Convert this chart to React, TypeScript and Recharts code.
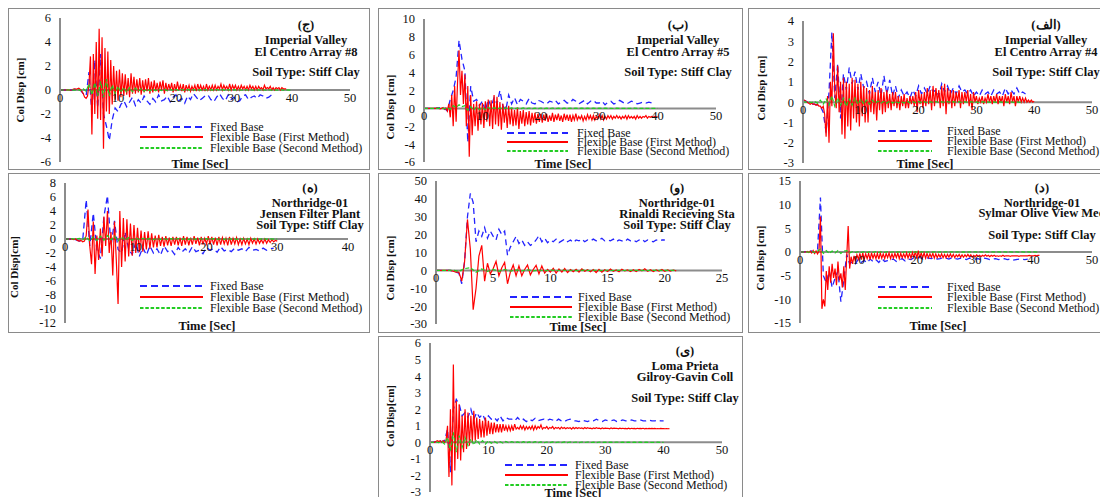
import React from 'react';
import { LineChart, Line, XAxis, YAxis, ReferenceLine, ReferenceDot } from 'recharts';

const FONT = '"Liberation Serif", "DejaVu Serif", serif';
const AXIS_GREY = '#8c8c8c';
const BORDER_GREY = '#8a8a8a';

// sampling steps (seconds) of the recorded histories
const FIXED_STEP = 0.5;
const FIRST_STEP = 0.25;
const SECOND_STEP = 0.5;

const SERIES = [
  { key: 'fixed', name: 'Fixed Base', color: '#2323ff', width: 1.3, dash: '6 4', legendDash: '7 4' },
  { key: 'first', name: 'Flexible Base (First Method)', color: '#ff0000', width: 1.2, dash: undefined, legendDash: undefined },
  { key: 'second', name: 'Flexible Base (Second Method)', color: '#22cc22', width: 1.2, dash: '4 2', legendDash: '3.5 1.8' },
];

const xTicks50 = [0, 10, 20, 30, 40, 50];
const xTicks40 = [0, 10, 20, 30, 40];
const xTicks25 = [0, 5, 10, 15, 20, 25];

// ---------- Imperial Valley, El Centro Array #8 ----------
const yTicksA = [-6, -4, -2, 0, 2, 4, 6];
const fixedA = [
  0, 0, 0, 0, 0, 0.05, 0.1, 0, -0.3, -0.5,
  1.5, -2.0, 2.5, -1.5, 3.0, -2.0, -3.0, -4.2, -2.5, -1.5,
  -1.8, -1.2, -0.9, -1.4, -1.0, -0.6, -1.3, -0.8, -1.1, -0.5,
  -0.9, -1.2, -0.7, -1.0, -0.4, -0.9, -0.8, -0.5, -1.0, -0.6,
  -0.4, -0.9, -0.7, -1.1, -0.5, -0.8, -0.3, -0.6, -0.9, -0.7,
  -0.5, -0.4, -0.8, -1.0, -0.6, -0.3, -0.7, -0.9, -0.4, -0.8,
  -0.6, -1.0, -0.9, -0.5, -0.4, -0.8, -0.6, -0.5, -0.7, -0.4,
  -0.5, -0.7, -0.6, -0.4, -0.5,
];
const firstA = [
  0, 0, 0, 0, 0, 0.02, 0, -0.02, 0, 0.05, 0.1, 0.05, 0.1, 0.15, 0.05, -0.1,
  -0.3, -0.6, -0.7, -0.5, 0.5, 2.8, -3.7, 3.0, -2.0, 4.0, -2.4, 5.1, -2.5, 4.4, -4.9, 3.5,
  -1.8, 3.2, -2.0, 2.5, -1.2, 2.0, -0.8, 1.6, -0.9, 1.7, -0.6, 1.4, -0.5, 1.3, -0.4, 1.0,
  -0.6, 1.4, -0.3, 1.1, -0.3, 0.9, -0.2, 1.0, -0.4, 0.8, -0.2, 0.9, -0.1, 1.0, -0.3, 0.7,
  -0.2, 0.8, -0.1, 0.6, -0.2, 0.7, 0, 0.8, -0.3, 0.6, -0.1, 0.5, 0, 0.6, -0.2, 0.5,
  -0.1, 0.7, 0, 0.4, -0.1, 0.5, -0.2, 0.4, 0, 0.4, -0.1, 0.3, 0, 0.4, -0.1, 0.5,
  0, 0.4, 0, 0.3, -0.1, 0.5, 0, 0.3, 0, 0.4, 0, 0.4, 0, 0.3, 0.1, 0.5,
  0, 0.4, 0.1, 0.3, 0, 0.5, 0, 0.4, 0.1, 0.4, 0, 0.3, 0, 0.4, 0.1, 0.3,
  0, 0.3, 0, 0.4, 0.1, 0.3, 0, 0.3, 0, 0.3, 0.1, 0.2, 0, 0.4, 0.1, 0.2,
  0.1, 0.3, 0, 0.2, 0, 0.2, 0.1, 0.2, 0, 0.2, 0.1, 0.1, 0.1,
];
const secondA = [
  0, 0, 0, 0, 0.02, -0.02, 0.05, -0.05, 0.1, -0.1,
  0.5, -0.4, 0.6, -0.5, 0.7, -0.6, 0.9, -0.5, 0.4, -0.3,
  0.3, -0.2, 0.2, -0.2, 0.2, -0.15, 0.15, -0.1, 0.1, -0.1,
  0.08, -0.06, 0.07, -0.05, 0.06, -0.05, 0.05, -0.05, 0.05, -0.04,
  0.05, -0.04, 0.04, -0.04, 0.05, -0.03, 0.04, -0.04, 0.03, -0.03,
  0.04, -0.03, 0.03, -0.03, 0.04, -0.02, 0.03, -0.03, 0.03, -0.02,
  0.03, -0.02, 0.02, -0.02, 0.03, -0.02, 0.02, -0.02, 0.02, -0.01,
  0.02, -0.02, 0.02, -0.01, 0.01, -0.01, 0.02, -0.01, 0.01, -0.01, 0,
];

// ---------- Imperial Valley, El Centro Array #5 ----------
const yTicksB = [-6, -4, -2, 0, 2, 4, 6, 8, 10];
const fixedB = [
  0, 0, 0, 0, 0, 0.05, 0.1, 0, -0.3, 1.0,
  2.0, 3.5, 7.6, 5.5, 4.2, -3.8, 2.5, 0.8, 1.0, 0.3,
  0.8, -0.3, 1.0, 0.2, 1.2, 0.5, 2.0, 0.3, -0.2, 1.5,
  0.5, 1.2, 0.4, 1.0, 0.8, 0.5, 1.1, 0.6, 0.5, 0.9,
  0.8, 0.6, 0.5, 0.8, 0.7, 0.9, 0.5, 0.7, 0.9, 0.6,
  0.6, 1.0, 0.8, 0.5, 0.7, 0.9, 0.5, 0.8, 0.9, 0.6,
  0.6, 0.8, 0.4, 0.7, 0.8, 0.5, 0.6, 0.9, 0.7, 0.5,
  0.6, 0.8, 0.7, 0.5, 0.6, 0.7, 0.6, 0.7, 0.6,
];
const firstB = [
  0, 0, 0, 0, 0, 0, 0, 0, 0, 0.05, 0, -0.05, 0, 0.1, -0.1, 0.05,
  -0.3, 0.5, -1.0, 1.5, -2.0, 2.5, -1.5, 3.0, 6.5, 1.5, 4.2, 0.5, 3.8, -2.0, 2.5, -5.4,
  1.5, -3.0, 0.5, -2.0, 0.8, -2.5, 0.5, -1.8, 0.6, -2.2, 0.8, -1.5, 1.0, -2.0, 0.9, -2.3,
  1.5, -1.8, 1.3, -2.0, 0.7, -2.4, 0.5, -1.6, 0.2, -2.2, 0.3, -1.8, 0, -2.0, -0.2, -1.9,
  0.1, -2.3, -0.3, -1.7, -0.2, -2.0, -0.4, -1.8, -0.3, -1.9, -0.5, -1.6, -0.5, -1.7, -0.6, -1.5,
  -0.6, -1.6, -0.7, -1.4, -0.6, -1.5, -0.8, -1.4, -0.5, -1.5, -0.7, -1.3, -0.6, -1.4, -0.8, -1.5,
  -0.6, -1.3, -0.7, -1.4, -0.7, -1.5, -0.8, -1.3, -0.6, -1.3, -0.9, -1.2, -0.8, -1.4, -0.9, -1.3,
  -0.7, -1.2, -0.8, -1.3, -0.8, -1.3, -0.9, -1.2, -0.7, -1.2, -0.8, -1.3, -0.9, -1.2, -0.8, -1.1,
  -0.8, -1.2, -0.9, -1.1, -0.8, -1.1, -0.9, -1.2, -0.9, -1.1, -0.8, -1.2, -0.8, -1.1, -0.9, -1.1,
  -0.9, -1.2, -0.8, -1.1, -0.9, -1.1, -0.9, -1.0, -0.8, -1.1, -0.9, -1.0, -0.9, -1.0, -0.9, -1.0,
  -0.9,
];
const secondB = [
  0, 0, 0, 0, 0, 0.02, 0, -0.02,
  0.05, -0.1, 0.3, 0.1, 0.4, 0.2, 0.3, -0.2, 0.2, -0.2, 0.15, -0.15, 0.1, -0.15,
  0.1, -0.1, 0.08, -0.08, 0.06, -0.06, 0.05, -0.05,
  0.05, -0.04, 0.04, -0.05, 0.05, -0.04, 0.04, -0.03, 0.03, -0.04,
  0.04, -0.03, 0.03, -0.03, 0.04, -0.02, 0.03, -0.03, 0.02, -0.02,
  0.03, -0.02, 0.02, -0.02, 0.03, -0.02, 0.02, -0.01, 0.02, -0.02,
  0.02, -0.01, 0.02, -0.01, 0.01, -0.02, 0.02, -0.01, 0.01, -0.01,
  0.01, -0.01, 0.02, -0.01, 0.01, -0.01, 0.01, -0.01, 0.01, -0.01, 0,
];

// ---------- Imperial Valley, El Centro Array #4 ----------
const yTicksC = [-3, -2, -1, 0, 1, 2, 3, 4];
const fixedC = [
  0.1, 0.05, -0.05, -0.1, -0.1, -0.15, -0.2, -0.5, -1.5, 0.5,
  3.45, 0.2, 1.9, -0.8, 1.4, 0.6, 1.7, 0.9, 1.5, 0.6,
  1.4, 0.7, 1.0, 0.4, 1.2, 0.5, 1.0, 0.3, 1.3, 0.4,
  1.1, 0.3, 0.8, 0.2, 0.6, 0.3, 0.5, 0.2, 0.6, 0.3,
  0.8, 0.4, 0.7, 0.4, 0.8, 0.5, 0.6, 0.3, 0.9, 0.5,
  0.8, 0.4, 0.7, 0.4, 0.8, 0.5, 0.6, 0.4, 0.6, 0.3,
  0.5, 0.3, 0.6, 0.4, 0.5, 0.3, 0.6, 0.4, 0.5, 0.3,
  0.7, 0.4, 0.6, 0.4, 0.7, 0.4, 0.5, 0.4,
];
const firstC = [
  0.05, 0.1, 0.05, 0, -0.05, -0.1, -0.05, -0.1, -0.1, -0.15, -0.1, -0.2, -0.2, -0.3, -0.2, -0.6,
  -1.7, 0.3, -2.0, 1.0, -0.2, 3.4, 0.5, -0.3, 1.8, -0.5, 1.0, -1.6, 1.2, -1.8, 1.0, -1.2,
  0.9, -1.4, 1.2, -0.8, 1.1, -1.0, 0.9, -1.2, 1.0, -0.7, 0.8, -1.0, 0.7, -1.0, 0.6, -0.5,
  0.8, -0.6, 0.5, -0.9, 0.6, -0.4, 0.7, -0.6, 0.5, -0.5, 0.6, -0.3, 0.4, -0.4, 0.5, -0.2,
  0.5, -0.3, 0.3, -0.4, 0.3, -0.2, 0.4, -0.3, 0.2, -0.3, 0.3, -0.1, 0.3, -0.2, 0.5, -0.5,
  0.6, -0.1, 0.4, -0.3, 0.5, -0.2, 0.7, -0.1, 0.6, -0.4, 0.8, -0.2, 0.7, 0, 0.6, -0.3,
  0.8, -0.2, 0.9, -0.6, 0.7, -0.1, 0.6, -0.3, 0.6, -0.2, 0.5, 0, 0.6, -0.3, 0.5, -0.1,
  0.5, 0, 0.6, -0.2, 0.4, -0.4, 0.5, 0, 0.3, -0.1, 0.2, 0, 0.3, -0.1, 0.2, 0,
  0.4, 0, 0.3, -0.1, 0.3, 0, 0.4, -0.1, 0.3, 0, 0.3, -0.2, 0.4, 0, 0.3, -0.1,
  0.5, 0, 0.3, -0.2, 0.3, 0, 0.3, 0, 0.2, 0, 0.2, 0, 0.1, 0, 0.1, 0,
  0.05,
];
const secondC = [
  0.02, 0, 0, -0.02, 0.03, -0.05, 0.1, -0.1, 0.15, -0.15,
  0.3, -0.2, 0.2, -0.15, 0.2, -0.2, 0.15, -0.15, 0.2, -0.1,
  0.15, -0.1, 0.1, -0.1, 0.1, -0.05,
  0.05, -0.04, 0.04, -0.05, 0.05, -0.04, 0.04, -0.03, 0.03, -0.04,
  0.04, -0.03, 0.03, -0.03, 0.04, -0.02, 0.03, -0.03, 0.02, -0.02,
  0.03, -0.02, 0.02, -0.02, 0.03, -0.02, 0.02, -0.01, 0.02, -0.02,
  0.02, -0.01, 0.02, -0.01, 0.01, -0.02, 0.02, -0.01, 0.01, -0.01,
  0.01, -0.01, 0.02, -0.01, 0.01, -0.01, 0.01, -0.01, 0.01, -0.01, 0,
];

// ---------- Northridge-01, Jensen Filter Plant ----------
const yTicksD = [-12, -10, -8, -6, -4, -2, 0, 2, 4, 6, 8];
const fixedD = [
  0, 0, 0, -0.1, -0.3, -0.2, 5.6, -1.0, 3.7, -1.5,
  -2.8, 3.2, 6.2, -1.0, 2.6, -1.5, -2.0, 1.0, -1.5, -2.2,
  -0.5, -2.5, -1.2, -2.3, -1.0, -2.0, -1.4, -2.3, -1.0, -1.8,
  -1.5, -2.2, -1.2, -1.9, -1.4, -2.0, -1.1, -1.8, -1.6, -2.1,
  -1.2, -1.6, -1.4, -1.9, -1.1, -1.7, -1.5, -1.8, -1.3, -1.6,
  -1.4, -1.8, -1.2, -1.6, -1.5, -1.7, -1.3, -1.6, -1.4, -1.3,
];
const firstD = [
  0, 0, 0, 0, 0, -0.1, 0, -0.2, -0.3, -0.2, -0.4, -0.3, 0.5, 4.2, -1.0, -3.6,
  2.5, -5.0, 0.5, -3.0, 1.5, -2.5, 3.2, -1.0, 4.0, -2.0, 1.0, -5.2, 2.5, -3.0, -9.3, 4.0,
  -4.0, 3.0, -3.2, 2.8, -2.5, 2.2, -2.4, 2.0, -2.0, 1.6, -1.9, 1.2, -1.8, 1.0, -1.5, 1.1,
  -1.4, 0.8, -1.2, 0.5, -1.2, 0.6, -1.0, 0.3, -1.1, 0.4, -0.9, 0.2, -1.0, 0.3, -0.8, 0.3,
  -0.9, 0.2, -1.0, 0.4, -0.8, 0.3, -0.9, 0.2, -0.8, 0.4, -0.7, 0.2, -0.9, 0.3, -0.8, 0.1,
  -0.7, 0.4, -0.8, 0.3, -0.8, 0.2, -0.9, 0.3, -0.8, 0.2, -0.7, 0.1, -0.9, 0.3, -0.8, 0.1,
  -0.7, 0.2, -0.8, 0, -0.8, 0.1, -0.7, 0, -0.8, 0.1, -0.6, 0, -0.7, 0, -0.6, -0.1,
  -0.6, 0, -0.6, -0.1, -0.5, -0.1, -0.4, -0.2, -0.3,
];
const secondD = [
  0, 0, 0.05, -0.05, 0.1, -0.1, 0.3, -0.3, 0.3, -0.2,
  0.4, -0.2, 0.5, -0.1, 0.4, -0.3, 0.3, -0.2, 0.2, -0.2,
  0.15, -0.1,
  0.1, -0.08, 0.09, -0.1, 0.08, -0.07, 0.07, -0.08, 0.06, -0.06,
  0.07, -0.05, 0.05, -0.06, 0.06, -0.05, 0.05, -0.04, 0.04, -0.05,
  0.05, -0.04, 0.04, -0.04, 0.04, -0.03, 0.03, -0.04, 0.03, -0.03,
  0.03, -0.02, 0.02, -0.03, 0.02, -0.02, 0.02, -0.02, 0,
];

// ---------- Northridge-01, Rinaldi Recieving Sta ----------
const yTicksE = [-30, -20, -10, 0, 10, 20, 30, 40, 50];
const FIXED_STEP_E = 0.25;
const fixedE = [
  0, 0, 0, 0, 0, 0, -0.5, -1.0, -1.5, -7.5, 5.0, 30.0, 43.0, 38.0, 16.0, 22.0,
  19.0, 24.0, 18.0, 22.0, 19.0, 17.0, 23.0, 20.0, 22.0, 8.5, 13.0, 16.0, 19.0, 15.0, 17.0, 14.0,
  16.0, 14.0, 15.0, 17.0, 19.5, 16.0, 18.0, 15.5, 17.0, 16.0, 17.5, 15.5, 16.5, 17.5, 16.0, 17.0,
  15.5, 17.0, 16.5, 17.5, 16.0, 17.0, 16.5, 17.5, 16.5, 17.0, 18.0, 16.5, 17.0, 16.5, 17.5, 16.0,
  17.0, 16.5, 16.0, 17.5, 16.5, 17.0, 16.0, 17.0, 17.5, 16.0, 17.0, 16.5, 16.0, 17.0, 16.5, 17.0,
  17.0,
];
const firstE = [
  0, 0, 0, 0, 0, 0, -0.5, -1.0, -1.0, -6.0, 5.0, 28.5, 12.0, -22.0, -10.0, 8.0,
  14.0, -6.0, 4.0, -2.0, 1.0, 5.0, -3.0, 1.5, 4.5, -7.5, -1.0, 3.0, -3.0, 2.5, -3.0, 0.5,
  3.0, -2.5, 0.5, 2.8, -2.0, 2.5, -1.5, 0.5, -1.0, 1.2, -1.5, 0.8, -1.0, 1.0, -1.2, 0.5,
  -0.8, 0.6, -1.0, 0.8, -0.5, 0.4, -0.8, 0.5, -1.2, 0.6, -1.0, 0.3, -0.6, 0.8, -0.5, 0.2,
  -0.8, 0.6, -0.3, 0.3, -0.7, 0.4, -0.6, 0.5, -0.3, 0.9, -0.5, 0.4, -0.6, 0.3, -0.4, 0.5,
  -0.5, 0.3, -0.4, 0.2, -0.3,
];
const secondE = [
  0, 0, 0, 0.1, -0.5, 1.0, 1.5, -1.0, 0.8, -0.6,
  0.5, -0.5, 0.5, -0.4, 0.3, -0.3, 0.3, -0.3, 0.2, -0.2,
  0.15, -0.1, 0.12, -0.1, 0.1, -0.1, 0.1, -0.08, 0.08, -0.1, 0.08, -0.06,
  0.06, -0.08, 0.07, -0.05, 0.05, -0.06, 0.06, -0.05, 0.05, -0.04, 0,
];

// ---------- Northridge-01, Sylmar Olive View Med ----------
const yTicksF = [-15, -10, -5, 0, 5, 10, 15];
const fixedF = [
  0, 0, 0.1, 0.1, 0.2, -0.2, 0.3, 11.5, -5.0, -6.5,
  -4.0, -7.5, -5.5, -4.0, -10.5, -6.0, -0.5, -2.5, -2.0, -2.5,
  -1.5, -2.2, -1.8, -2.3, -1.5, -2.0, -1.6, -2.2, -1.4, -2.0,
  -1.8, -1.6, -1.5, -2.0, -1.7, -1.4, -1.9, -1.5, -1.6, -1.2,
  -1.4, -1.1, -1.5, -1.2, -1.3, -1.4, -1.2, -1.5, -1.4, -1.2,
  -1.3, -1.5, -1.2, -1.4, -1.5, -1.3, -1.4, -1.6, -1.3, -1.5,
  -1.5, -1.4, -1.6, -1.3, -1.4, -1.6, -1.5, -1.4, -1.6, -1.5,
  -1.4, -1.6, -1.5, -1.7, -1.6, -1.5, -1.5, -1.6, -1.5,
];
const firstF = [
  0, 0, 0, 0, 0, 0.1, -0.1, 0.2, -0.2, 0.3, -0.3, 0.2, -0.4, 0.2, 7.5, -12.0,
  -10.0, -11.5, -4.0, -8.0, -3.0, -6.5, -2.5, -5.5, -3.5, -7.0, -2.0, -6.0, -4.5, -7.5, -3.0, -8.0,
  -1.0, 5.5, -3.5, -1.0, -2.5, -0.8, -2.0, -0.6, -1.5, -0.3, -1.6, -0.2, -1.5, -0.4, -1.4, -0.3,
  -1.6, -0.2, -1.3, -0.4, -1.4, -0.3, -1.5, -0.2, -1.3, -0.4, -1.4, -0.3, -1.2, -0.2, -1.4, -0.4,
  -1.3, -0.3, -1.2, -0.2, -1.4, -0.3, -1.2, -0.4, -1.2, -0.2, -1.3, -0.3, -1.3, -0.1, -1.2, 0.2,
  -1.4, 0.3, -1.3, -0.2, -1.2, -0.2, -1.3, -0.3, -1.2, -0.4, -1.1, -0.3, -1.3, -0.4, -1.2, -0.5,
  -1.1, -0.4, -1.2, -0.5, -1.2, -0.5, -1.1, -0.4, -1.1, -0.5, -1.2, -0.6, -1.0, -0.5, -1.1, -0.6,
  -1.1, -0.6, -1.0, -0.5, -1.0, -0.6, -1.1, -0.7, -1.0, -0.6, -0.9, -0.7, -1.0, -0.7, -0.9, -0.6,
  -0.9, -0.7, -1.0, -0.7, -0.9, -0.7, -0.9, -0.8, -0.9, -0.8, -0.9, -0.7, -0.9, -0.8, -0.8, -0.8,
  -0.9, -0.8, -0.8, -0.8, -0.8, -0.8, -0.9, -0.8, -0.8, -0.8, -0.8, -0.8, -0.8, -0.7, -0.8, -0.8,
  -0.8, -0.7, -0.8, -0.7, -0.7,
];
const secondF = [
  0, 0, 0.05, -0.05, 0.1, -0.1, 0.2, 0.6, -0.3, 0.3,
  -0.3, 0.2, -0.2, 0.3, -0.3, 0.2, 0.3, -0.2, 0.1, -0.1,
  0.08, -0.06, 0.07, -0.08, 0.06, -0.05, 0.07, -0.06, 0.05, -0.06,
  0.06, -0.05, 0.05, -0.04, 0.04, -0.05, 0.05, -0.04, 0.04, -0.04,
  0.04, -0.03, 0.05, -0.04, 0.03, -0.04, 0.04, -0.03, 0.03, -0.03,
  0.04, -0.02, 0.03, -0.03, 0.03, -0.02, 0.02, -0.03, 0.03, -0.02,
  0.02, -0.02, 0.03, -0.02, 0.02, -0.02, 0.02, -0.01, 0.02, -0.02,
  0.01, -0.02, 0.02, -0.01, 0.01, -0.01, 0.02, -0.01, 0.01, -0.01,
  0.01, -0.01, 0,
];

// ---------- Loma Prieta, Gilroy-Gavin Coll ----------
const yTicksG = [-3, -2, -1, 0, 1, 2, 3, 4, 5, 6];
const fixedG = [
  0, 0, 0.05, 0.1, 0.05, 0.1, 0.8, -1.8, 2.0, 2.6,
  2.3, 1.6, 1.8, 1.5, 2.0, 1.4, 1.8, 1.5, 1.7, 1.3,
  1.6, 1.4, 1.5, 1.3, 1.6, 1.3, 1.5, 1.4, 1.4, 1.3,
  1.5, 1.3, 1.4, 1.25, 1.4, 1.3, 1.45, 1.3, 1.35, 1.4,
  1.3, 1.4, 1.35, 1.25, 1.4, 1.3, 1.25, 1.35, 1.4, 1.3,
  1.3, 1.25, 1.35, 1.3, 1.25, 1.35, 1.3, 1.4, 1.3, 1.25,
  1.35, 1.3, 1.3, 1.35, 1.25, 1.3, 1.35, 1.3, 1.3, 1.35,
  1.3, 1.3, 1.35, 1.3, 1.3, 1.35, 1.3, 1.3, 1.35, 1.3,
  1.3,
];
const firstG = [
  0, 0, 0, 0, 0.05, 0.1, 0.05, 0.1, 0, 0.1, 0, 0.1, 1.0, -2.1, 2.0, -2.6,
  4.7, -1.7, 2.5, -1.0, 2.3, -1.1, 1.6, -0.6, 2.0, -0.4, 1.8, -0.2, 1.6, 0, 1.9, 0.1,
  1.5, 0.2, 1.4, 0.3, 1.3, 0.3, 1.5, 0.4, 1.3, 0.5, 1.2, 0.5, 1.2, 0.6, 1.1, 0.6,
  1.1, 0.6, 1.1, 0.7, 1.0, 0.7, 1.0, 0.7, 1.0, 0.7, 1.1, 0.8, 0.9, 0.8, 1.0, 0.8,
  1.0, 0.75, 0.95, 0.8, 0.95, 0.8, 1.0, 0.75, 1.0, 0.8, 0.95, 0.85, 1.05, 0.8, 0.9, 0.85,
  0.95, 0.8, 0.9, 0.85, 0.95, 0.8, 0.9, 0.85, 0.9, 0.8, 0.92, 0.84, 0.9, 0.82, 0.88, 0.85,
  0.88, 0.8, 0.9, 0.82, 0.9, 0.83, 0.88, 0.84, 0.87, 0.82, 0.9, 0.83, 0.88, 0.84, 0.86, 0.82,
  0.87, 0.83, 0.88, 0.84, 0.86, 0.82, 0.87, 0.83, 0.86, 0.84, 0.85, 0.82, 0.87, 0.83, 0.86, 0.84,
  0.85, 0.82, 0.86, 0.83, 0.85, 0.83, 0.84, 0.82, 0.86, 0.82, 0.85, 0.83, 0.84, 0.82, 0.85, 0.83,
  0.84, 0.83, 0.85, 0.82, 0.84, 0.82, 0.84, 0.83, 0.84, 0.83, 0.84, 0.82, 0.83, 0.82, 0.84, 0.83,
  0.83, 0.82, 0.83, 0.82, 0.83,
];
const secondG = [
  0, 0, 0.02, -0.02, 0.05, -0.1, 0.3, -0.5, 0.6, -0.6,
  0.4, -0.3, 0.3, -0.2, 0.2, -0.15, 0.15, -0.1, 0.1, -0.1,
  0.1, -0.05,
  0.05, -0.04, 0.04, -0.05, 0.05, -0.04, 0.04, -0.03, 0.03, -0.04,
  0.04, -0.03, 0.03, -0.03, 0.04, -0.02, 0.03, -0.03, 0.02, -0.02,
  0.03, -0.02, 0.02, -0.02, 0.03, -0.02, 0.02, -0.01, 0.02, -0.02,
  0.02, -0.01, 0.02, -0.01, 0.01, -0.02, 0.02, -0.01, 0.01, -0.01,
  0.01, -0.01, 0.02, -0.01, 0.01, -0.01, 0.01, -0.01, 0.01, -0.01,
  0.01, -0.01, 0.01, -0.01, 0, 0, 0.01, -0.01, 0,
];

type Box = { x: number; y: number; w: number; h: number };
type PanelDef = {
  id: string;
  box: Box;
  plot: { x0: number; x1: number; top: number; bottom: number };
  xMax: number;
  xTicks: number[];
  yMin: number;
  yMax: number;
  yTicks: number[];
  values: { fixed: number[]; first: number[]; second: number[] };
  steps: { fixed: number; first: number; second: number };
  titleX: number;
  titles: { text: string; y: number }[];
  legend: { x1: number; x2: number; textX: number; rows: number[] };
  timeLabel: { x: number; y: number };
  yLabel: { x: number; y: number; text: string };
};

const defaultSteps = { fixed: FIXED_STEP, first: FIRST_STEP, second: SECOND_STEP };

const PANELS: PanelDef[] = [
  {
    id: 'A', box: { x: 8, y: 8, w: 362, h: 162 }, plot: { x0: 60, x1: 350, top: 18, bottom: 162 },
    xMax: 50, xTicks: xTicks50, yMin: -6, yMax: 6, yTicks: yTicksA,
    values: { fixed: fixedA, first: firstA, second: secondA }, steps: defaultSteps,
    titleX: 306,
    titles: [{ text: '(ج)', y: 25 }, { text: 'Imperial Valley', y: 40 }, { text: 'El Centro Array #8', y: 52 }, { text: 'Soil Type: Stiff Clay', y: 72 }],
    legend: { x1: 140, x2: 203, textX: 210, rows: [127, 137, 148] },
    timeLabel: { x: 200, y: 164 }, yLabel: { x: 20, y: 90, text: 'Col Disp [cm]' },
  },
  {
    id: 'B', box: { x: 378, y: 8, w: 365, h: 162 }, plot: { x0: 424, x1: 716, top: 19, bottom: 162 },
    xMax: 50, xTicks: xTicks50, yMin: -6, yMax: 10, yTicks: yTicksB,
    values: { fixed: fixedB, first: firstB, second: secondB }, steps: defaultSteps,
    titleX: 678,
    titles: [{ text: '(ب)', y: 25 }, { text: 'Imperial Valley', y: 40 }, { text: 'El Centro Array #5', y: 52 }, { text: 'Soil Type: Stiff Clay', y: 72 }],
    legend: { x1: 507, x2: 568, textX: 577, rows: [133, 142, 151] },
    timeLabel: { x: 563, y: 164 }, yLabel: { x: 390, y: 107, text: 'Col Disp [cm]' },
  },
  {
    id: 'C', box: { x: 748, y: 8, w: 362, h: 162 }, plot: { x0: 803, x1: 1092, top: 21, bottom: 163 },
    xMax: 50, xTicks: xTicks50, yMin: -3, yMax: 4, yTicks: yTicksC,
    values: { fixed: fixedC, first: firstC, second: secondC }, steps: defaultSteps,
    titleX: 1046,
    titles: [{ text: '(الف)', y: 25 }, { text: 'Imperial Valley', y: 40 }, { text: 'El Centro Array #4', y: 52 }, { text: 'Soil Type: Stiff Clay', y: 72 }],
    legend: { x1: 878, x2: 932, textX: 947, rows: [131, 141, 151] },
    timeLabel: { x: 925, y: 164 }, yLabel: { x: 761, y: 88, text: 'Col Disp [cm]' },
  },
  {
    id: 'D', box: { x: 8, y: 173, w: 362, h: 160 }, plot: { x0: 65, x1: 348, top: 183, bottom: 323 },
    xMax: 40, xTicks: xTicks40, yMin: -12, yMax: 8, yTicks: yTicksD,
    values: { fixed: fixedD, first: firstD, second: secondD }, steps: defaultSteps,
    titleX: 310,
    titles: [{ text: '(ه)', y: 188 }, { text: 'Northridge-01', y: 203 }, { text: 'Jensen Filter Plant', y: 214 }, { text: 'Soil Type: Stiff Clay', y: 225 }],
    legend: { x1: 140, x2: 203, textX: 210, rows: [286, 297, 308] },
    timeLabel: { x: 207, y: 326 }, yLabel: { x: 14, y: 267, text: 'Col Disp[cm]' },
  },
  {
    id: 'E', box: { x: 378, y: 173, w: 365, h: 160 }, plot: { x0: 436, x1: 722, top: 181, bottom: 324 },
    xMax: 25, xTicks: xTicks25, yMin: -30, yMax: 50, yTicks: yTicksE,
    values: { fixed: fixedE, first: firstE, second: secondE },
    steps: { fixed: FIXED_STEP_E, first: FIRST_STEP, second: SECOND_STEP },
    titleX: 677,
    titles: [{ text: '(و)', y: 188 }, { text: 'Northridge-01', y: 203 }, { text: 'Rinaldi Recieving Sta', y: 214 }, { text: 'Soil Type: Stiff Clay', y: 225 }],
    legend: { x1: 510, x2: 572, textX: 578, rows: [297, 307, 317] },
    timeLabel: { x: 578, y: 327 }, yLabel: { x: 390, y: 268, text: 'Col Disp [cm]' },
  },
  {
    id: 'F', box: { x: 748, y: 173, w: 362, h: 160 }, plot: { x0: 800, x1: 1092, top: 181, bottom: 323 },
    xMax: 50, xTicks: xTicks50, yMin: -15, yMax: 15, yTicks: yTicksF,
    values: { fixed: fixedF, first: firstF, second: secondF }, steps: defaultSteps,
    titleX: 1042,
    titles: [{ text: '(د)', y: 188 }, { text: 'Northridge-01', y: 203 }, { text: 'Sylmar Olive View Med', y: 213 }, { text: 'Soil Type: Stiff Clay', y: 235 }],
    legend: { x1: 878, x2: 932, textX: 947, rows: [287, 297, 308] },
    timeLabel: { x: 938, y: 326 }, yLabel: { x: 760, y: 258, text: 'Col Disp [cm]' },
  },
  {
    id: 'G', box: { x: 378, y: 336, w: 365, h: 175 }, plot: { x0: 430, x1: 722, top: 343, bottom: 492 },
    xMax: 50, xTicks: xTicks50, yMin: -3, yMax: 6, yTicks: yTicksG,
    values: { fixed: fixedG, first: firstG, second: secondG }, steps: defaultSteps,
    titleX: 685,
    titles: [{ text: '(ی)', y: 351 }, { text: 'Loma Prieta', y: 366 }, { text: 'Gilroy-Gavin Coll', y: 377 }, { text: 'Soil Type: Stiff Clay', y: 398 }],
    legend: { x1: 505, x2: 568, textX: 575, rows: [465, 475, 485] },
    timeLabel: { x: 573, y: 493 }, yLabel: { x: 390, y: 416, text: 'Col Disp[cm]' },
  },
];

function toPoints(values: number[], step: number) {
  return values.map((v, i) => ({ t: Math.round(i * step * 1000) / 1000, v }));
}

const boldText: React.CSSProperties = {
  position: 'absolute',
  transform: 'translate(-50%, -50%)',
  whiteSpace: 'nowrap',
  fontFamily: FONT,
  fontWeight: 700,
  fontSize: 12.5,
  lineHeight: 1,
  color: '#111',
};

function SeriesLegend({ legend }: { legend: PanelDef['legend'] }) {
  const top = legend.rows[0] - 7;
  const h = legend.rows[2] - legend.rows[0] + 14;
  return (
    <svg
      style={{ position: 'absolute', left: legend.x1, top, overflow: 'visible' }}
      width={legend.textX - legend.x1 + 175}
      height={h}
    >
      {SERIES.map((s, i) => {
        const y = legend.rows[i] - top;
        return (
          <g key={s.key}>
            <line x1={0} x2={legend.x2 - legend.x1} y1={y} y2={y} stroke={s.color} strokeWidth={2} strokeDasharray={s.legendDash} />
            <text x={legend.textX - legend.x1} y={y} dominantBaseline="central" fontFamily={FONT} fontSize={12} fill="#111">
              {s.name}
            </text>
          </g>
        );
      })}
    </svg>
  );
}

function Panel({ p }: { p: PanelDef }) {
  const { box, plot } = p;
  const margin = {
    top: plot.top - box.y,
    bottom: box.y + box.h - plot.bottom,
    left: 0,
    right: box.x + box.w - plot.x1,
  };
  const yAxisWidth = plot.x0 - box.x;
  return (
    <>
      <div
        style={{
          position: 'absolute', left: box.x, top: box.y, width: box.w, height: box.h,
          border: `1.5px solid ${BORDER_GREY}`, boxSizing: 'border-box',
        }}
      />
      <div style={{ position: 'absolute', left: box.x, top: box.y }}>
        <LineChart width={box.w} height={box.h} margin={margin}>
          <XAxis type="number" dataKey="t" domain={[0, p.xMax]} hide allowDataOverflow />
          <YAxis
            type="number"
            domain={[p.yMin, p.yMax]}
            ticks={p.yTicks}
            interval={0}
            width={yAxisWidth}
            tickLine={false}
            tickMargin={3}
            axisLine={{ stroke: AXIS_GREY, strokeWidth: 2 }}
            tick={{ fill: '#111', fontSize: 12.5, fontFamily: FONT }}
            allowDataOverflow
          />
          <ReferenceLine y={0} stroke={AXIS_GREY} strokeWidth={2} />
          {p.xTicks.map((t) => (
            <ReferenceDot
              key={`xt-${t}`}
              x={t}
              y={0}
              r={0}
              fill="none"
              stroke="none"
              label={{ value: String(t), position: 'bottom', offset: 3, fontSize: 12.5, fontFamily: FONT, fill: '#111' }}
            />
          ))}
          {SERIES.map((s) => (
            <Line
              key={s.key}
              data={toPoints(p.values[s.key as 'fixed'], p.steps[s.key as 'fixed'])}
              dataKey="v"
              type="linear"
              stroke={s.color}
              strokeWidth={s.width}
              strokeDasharray={s.dash}
              dot={false}
              activeDot={false}
              isAnimationActive={false}
            />
          ))}
        </LineChart>
      </div>
      {p.titles.map((t, i) => (
        <div key={`title-${i}`} style={{ ...boldText, left: p.titleX, top: t.y }}>{t.text}</div>
      ))}
      <div style={{ ...boldText, left: p.timeLabel.x, top: p.timeLabel.y }}>Time [Sec]</div>
      <div style={{ ...boldText, fontSize: 11, left: p.yLabel.x, top: p.yLabel.y, transform: 'translate(-50%, -50%) rotate(-90deg)' }}>
        {p.yLabel.text}
      </div>
      <SeriesLegend legend={p.legend} />
    </>
  );
}

export default function App() {
  return (
    <div
      style={{
        position: 'absolute', left: 0, top: 0, width: 1100, height: 497,
        overflow: 'hidden', background: '#fff', fontFamily: FONT,
      }}
    >
      {PANELS.map((p) => (
        <Panel key={p.id} p={p} />
      ))}
    </div>
  );
}
